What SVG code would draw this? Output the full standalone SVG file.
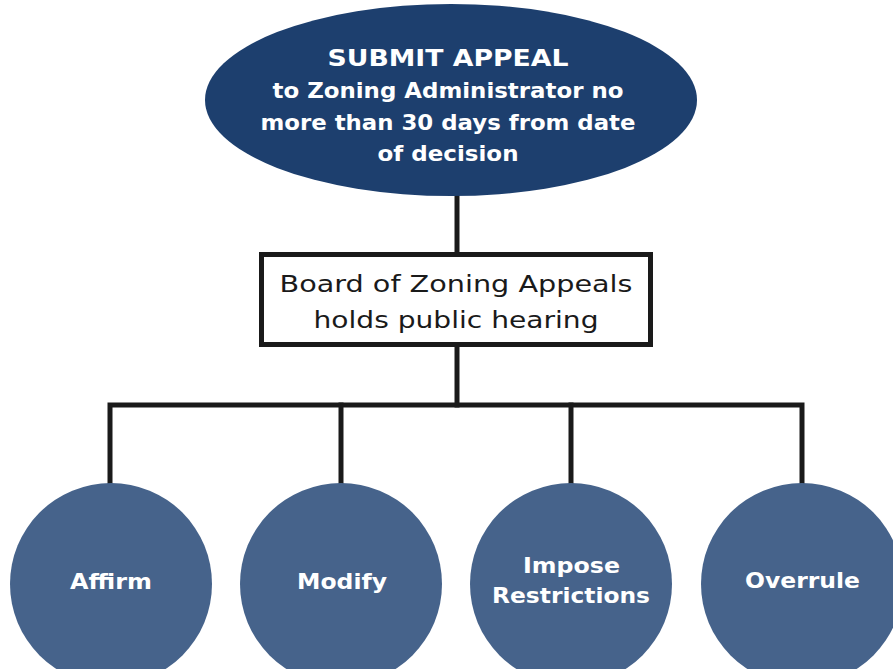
<svg xmlns="http://www.w3.org/2000/svg" width="893" height="669" viewBox="0 0 893 669">
<style>
.conn{stroke:#1a1a1a;stroke-width:5;fill:none;stroke-linecap:square}
.outcome{fill:#46638b}
.wt{fill:#ffffff;font-family:"DejaVu Sans","Liberation Sans",sans-serif;font-weight:bold;text-anchor:middle}
.bt{fill:#1a1a1a;font-family:"DejaVu Sans","Liberation Sans",sans-serif;text-anchor:middle;font-size:23px}
</style>
<rect width="893" height="669" fill="#ffffff"/>
<g id="connectors">
<path class="conn" d="M457 190 V254"/>
<path class="conn" d="M457 347 V405"/>
<path class="conn" d="M110 484 V405 H802 V484"/>
<path class="conn" d="M341 405 V484"/>
<path class="conn" d="M571 405 V484"/>
</g>
<g id="submit-appeal">
<ellipse cx="451" cy="100" rx="246" ry="96" fill="#1d3f6e"/>
<text class="wt" x="448" y="66" font-size="23" textLength="241" lengthAdjust="spacingAndGlyphs">SUBMIT APPEAL</text>
<text class="wt" x="448" y="98" font-size="22" textLength="351" lengthAdjust="spacingAndGlyphs">to Zoning Administrator no</text>
<text class="wt" x="448" y="130" font-size="22" textLength="375" lengthAdjust="spacingAndGlyphs">more than 30 days from date</text>
<text class="wt" x="448" y="161" font-size="22" textLength="141" lengthAdjust="spacingAndGlyphs">of decision</text>
</g>
<g id="board">
<rect x="261.5" y="254.5" width="389" height="90" fill="#ffffff" stroke="#1a1a1a" stroke-width="5"/>
<text class="bt" x="456" y="292" textLength="353" lengthAdjust="spacingAndGlyphs">Board of Zoning Appeals</text>
<text class="bt" x="456" y="328" textLength="285" lengthAdjust="spacingAndGlyphs">holds public hearing</text>
</g>
<g id="affirm">
<circle class="outcome" cx="111" cy="584" r="101"/>
<text class="wt" x="111" y="589" font-size="22" textLength="82" lengthAdjust="spacingAndGlyphs">Affirm</text>
</g>
<g id="modify">
<circle class="outcome" cx="341" cy="584" r="101"/>
<text class="wt" x="342" y="589" font-size="22" textLength="90" lengthAdjust="spacingAndGlyphs">Modify</text>
</g>
<g id="impose-restrictions">
<circle class="outcome" cx="571" cy="584" r="101"/>
<text class="wt" x="571.5" y="573" font-size="22" textLength="97" lengthAdjust="spacingAndGlyphs">Impose</text>
<text class="wt" x="571" y="603" font-size="22" textLength="158" lengthAdjust="spacingAndGlyphs">Restrictions</text>
</g>
<g id="overrule">
<circle class="outcome" cx="802" cy="584" r="101"/>
<text class="wt" x="802.5" y="588" font-size="22" textLength="115" lengthAdjust="spacingAndGlyphs">Overrule</text>
</g>
</svg>
